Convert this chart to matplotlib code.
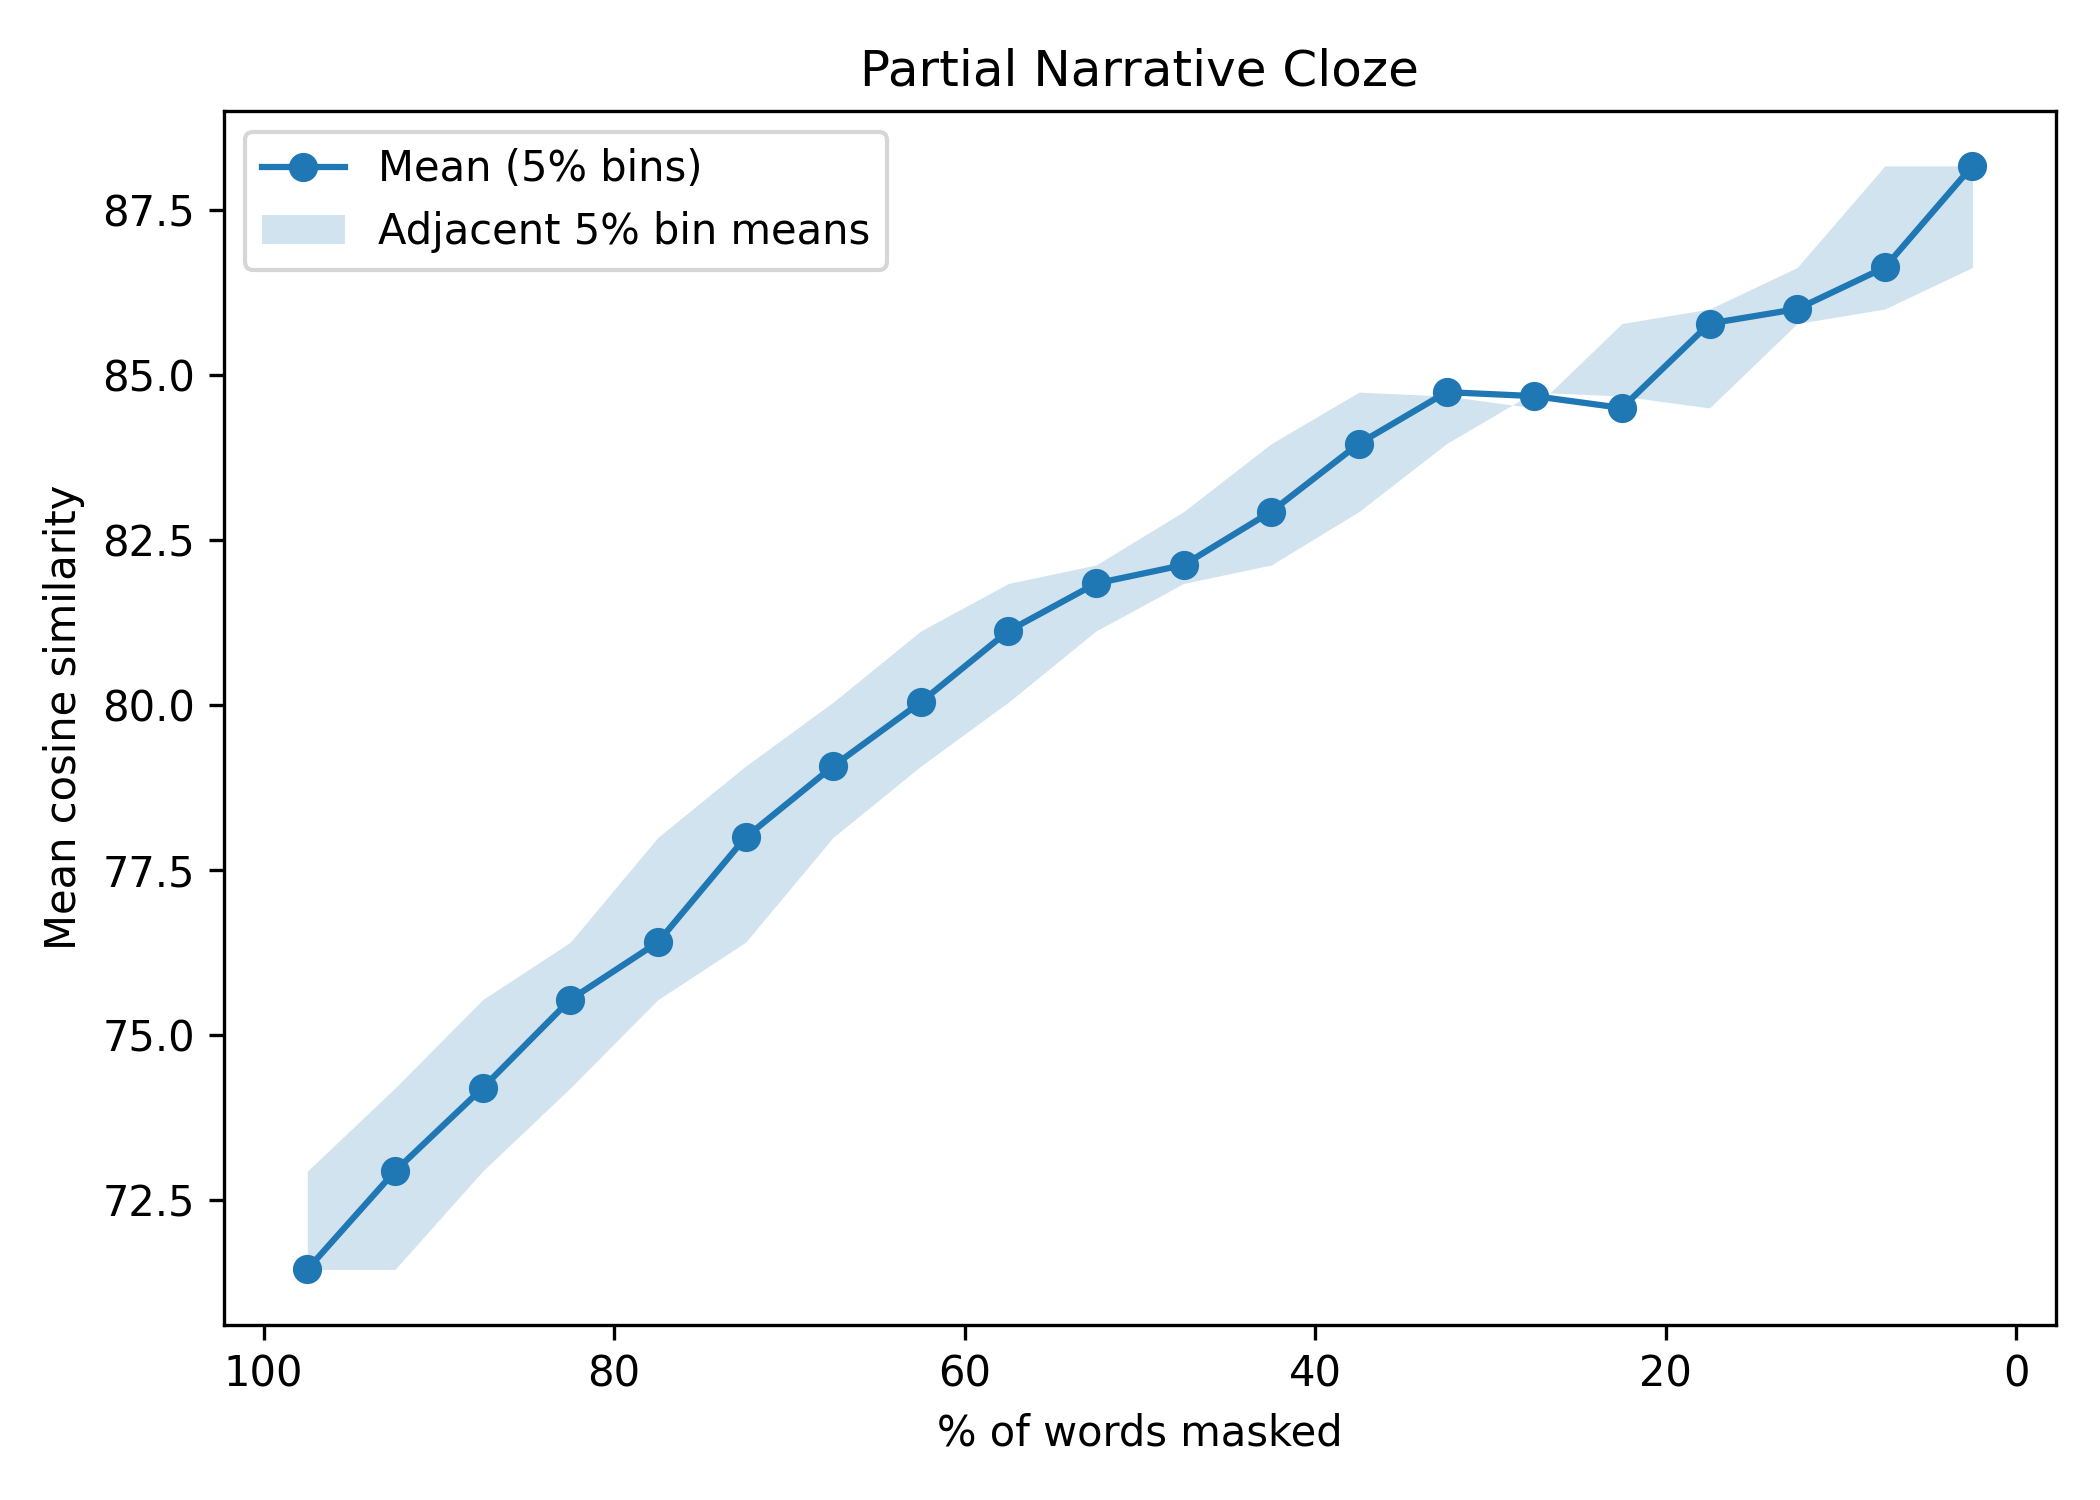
import matplotlib
matplotlib.use("Agg")
import matplotlib.pyplot as plt

pct_masked = [97.5, 92.5, 87.5, 82.5, 77.5, 72.5, 67.5, 62.5, 57.5, 52.5,
              47.5, 42.5, 37.5, 32.5, 27.5, 22.5, 17.5, 12.5, 7.5, 2.5]
mean_sim = [71.44, 72.93, 74.19, 75.53, 76.40, 77.99, 79.07, 80.04, 81.12, 81.84,
            82.12, 82.93, 83.96, 84.74, 84.68, 84.50, 85.78, 86.00, 86.63, 88.17]
# mean of the previous (higher %) bin and of the next (lower %) bin, as read
band_prev = [71.44, 71.44, 72.93, 74.19, 75.53, 76.40, 77.99, 79.07, 80.04, 81.12,
             81.84, 82.12, 82.93, 83.96, 84.74, 84.68, 84.50, 85.78, 86.00, 86.63]
band_next = [72.93, 74.19, 75.53, 76.40, 77.99, 79.07, 80.04, 81.12, 81.84, 82.12,
             82.93, 83.96, 84.74, 84.68, 84.50, 85.78, 86.00, 86.63, 88.17, 88.17]

fig, ax = plt.subplots(figsize=(7, 5), dpi=300)
ax.plot(pct_masked, mean_sim, marker='o', color='#1f77b4', label='Mean (5% bins)')
ax.fill_between(pct_masked, band_prev, band_next, color='#1f77b4', alpha=0.2,
                linewidth=0, label='Adjacent 5% bin means')
ax.invert_xaxis()
ax.set_xlabel('% of words masked')
ax.set_ylabel('Mean cosine similarity')
ax.set_title('Partial Narrative Cloze')
ax.legend(loc='upper left')
fig.subplots_adjust(left=0.1067, right=0.9789, bottom=0.1169, top=0.9262)
fig.savefig('out.png', dpi=300)
